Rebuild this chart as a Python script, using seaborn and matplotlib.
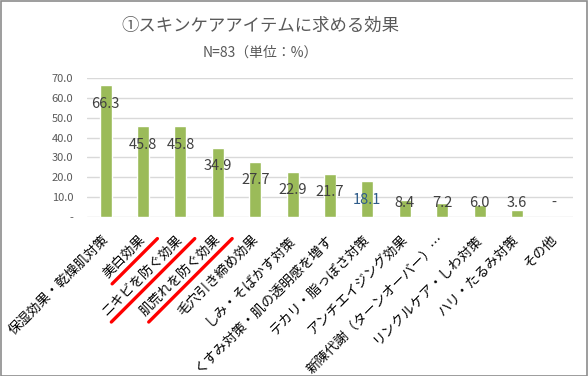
import matplotlib
matplotlib.use("Agg")
import matplotlib.pyplot as plt
import seaborn as sns
import pandas as pd
import numpy as np
from matplotlib.lines import Line2D
from matplotlib.patches import Rectangle
from matplotlib.transforms import ScaledTranslation
from matplotlib.font_manager import FontProperties

categories = ["保湿効果・乾燥肌対策", "美白効果", "ニキビを防ぐ効果", "肌荒れを防ぐ効果",
              "毛穴引き締め効果", "しみ・そばかす対策", "くすみ対策・肌の透明感を増す",
              "テカリ・脂っぽさ対策", "アンチエイジング効果", "新陳代謝（ターンオーバー）…",
              "リンクルケア・しわ対策", "ハリ・たるみ対策", "その他"]
values = [66.3, 45.8, 45.8, 34.9, 27.7, 22.9, 21.7, 18.1, 8.4, 7.2, 6.0, 3.6, 0.0]
value_labels = ["66.3", "45.8", "45.8", "34.9", "27.7", "22.9", "21.7", "18.1",
                "8.4", "7.2", "6.0", "3.6", "-"]
yticks = [0, 10, 20, 30, 40, 50, 60, 70]
ytick_labels = ["-", "10.0", "20.0", "30.0", "40.0", "50.0", "60.0", "70.0"]
underlined = [1, 2, 3]
title = "①スキンケアアイテムに求める効果"
subtitle = "N=83（単位：%）"

sns.set_theme(style="white")
plt.rcParams['font.family'] = ['Noto Sans CJK JP', 'DejaVu Sans']

W, H = 588, 376
DPI = 100
fig = plt.figure(figsize=(W / DPI, H / DPI), dpi=DPI)
ax = fig.add_axes([87 / W, (H - 217) / H, (573 - 87) / W, (217 - 78) / H])

df = pd.DataFrame({"cat": categories, "val": values})
sns.barplot(data=df, x="cat", y="val", color="#9BBB59", width=0.32, ax=ax,
            saturation=1)

ax.set_ylim(0, 70)
ax.set_yticks(yticks)
ax.set_yticklabels(ytick_labels, color="#595959", fontsize=8)
ax.yaxis.grid(True, color="#D9D9D9", linewidth=1)
ax.set_axisbelow(True)
for s in ax.spines.values():
    s.set_visible(False)
ax.tick_params(axis="both", length=0)
ax.tick_params(axis="y", pad=10)
ax.set_xlabel("")
ax.set_ylabel("")
ax.set_xticks(range(len(categories)))
ax.set_xticklabels([])

lab_fs = 9.7
offset = ScaledTranslation(3 / DPI, -23 / DPI, fig.dpi_scale_trans)
for i, cat in enumerate(categories):
    ax.text(i, 0, cat, transform=ax.get_xaxis_transform() + offset,
            ha="right", va="baseline", rotation=45, rotation_mode="anchor",
            fontsize=lab_fs, color="black", clip_on=False)

for i, (v, lab) in enumerate(zip(values, value_labels)):
    ypos = max(v - 9.3, 6.9)
    col = "#2E5C8A" if i == 7 else "#404040"
    ax.text(i, ypos, lab, ha="center", va="center", fontsize=10.5, color=col)

fig.text(260 / W, 1 - 26 / H, title, ha="center", va="center", fontsize=12.5, color="#595959")
fig.text(260 / W, 1 - 53 / H, subtitle, ha="center", va="center", fontsize=10, color="#595959")

fig.canvas.draw()
renderer = fig.canvas.get_renderer()
c = np.cos(np.pi / 4)
fp = FontProperties(family=['Noto Sans CJK JP', 'DejaVu Sans'], size=lab_fs)
for i in underlined:
    L, _, _ = renderer.get_text_width_height_descent(categories[i], fp, ismath=False)
    ex, ey = (ax.get_xaxis_transform() + offset).transform((i, 0))
    d = 7.0
    bx, by = ex + c * d, ey - c * d
    x1, y1 = bx + c * 9, by + c * 9
    x0, y0 = bx - c * (L + 1), by - c * (L + 1)
    p0 = fig.transFigure.inverted().transform((x0, y0))
    p1 = fig.transFigure.inverted().transform((x1, y1))
    fig.add_artist(Line2D([p0[0], p1[0]], [p0[1], p1[1]], color="red",
                          linewidth=2.4, transform=fig.transFigure))

fig.add_artist(Rectangle((0.5 / W, 0.5 / H), 1 - 1.5 / W, 1 - 1.5 / H, fill=False,
                         edgecolor="#8C8C8C", linewidth=1.2, transform=fig.transFigure))

fig.savefig("out.png", dpi=DPI)
